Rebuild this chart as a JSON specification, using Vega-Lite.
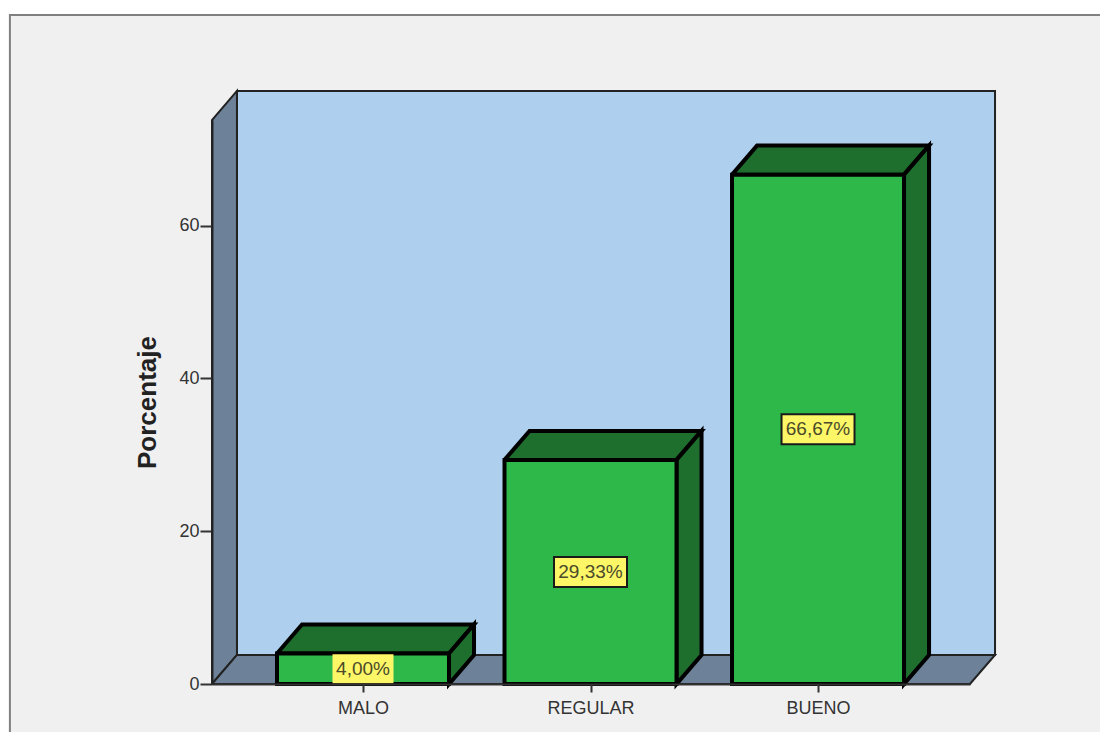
{
  "$schema": "https://vega.github.io/schema/vega-lite/v6.json",
  "width": 758,
  "height": 564,
  "autosize": {"type": "none"},
  "padding": {"left": 212, "top": 120, "right": 130, "bottom": 48},
  "background": "#ffffff",
  "config": {"view": {"stroke": null}, "font": "Liberation Sans"},
  "datasets": {
    "barras": [
      {"categoria": "MALO", "posicion": 1, "porcentaje": 4.0, "centro": 2.0, "etiqueta": "4,00%"},
      {"categoria": "REGULAR", "posicion": 2, "porcentaje": 29.33, "centro": 14.665, "etiqueta": "29,33%"},
      {"categoria": "BUENO", "posicion": 3, "porcentaje": 66.67, "centro": 33.335, "etiqueta": "66,67%"}
    ],
    "marco": [
      {"desde": -0.552, "hasta": 4.6, "base": -12, "techo": 87.55}
    ],
    "escenario": [
      {"cara": "pared", "orden": 1, "u": 0.446, "v": 3.8},
      {"cara": "pared", "orden": 2, "u": 0.446, "v": 77.62},
      {"cara": "pared", "orden": 3, "u": 3.778, "v": 77.62},
      {"cara": "pared", "orden": 4, "u": 3.778, "v": 3.8},
      {"cara": "pared", "orden": 5, "u": 0.446, "v": 3.8},
      {"cara": "lateral", "orden": 1, "u": 0.3363, "v": 0},
      {"cara": "lateral", "orden": 2, "u": 0.446, "v": 3.8},
      {"cara": "lateral", "orden": 3, "u": 0.446, "v": 77.62},
      {"cara": "lateral", "orden": 4, "u": 0.3363, "v": 73.82},
      {"cara": "lateral", "orden": 5, "u": 0.3363, "v": 0},
      {"cara": "suelo", "orden": 1, "u": 0.3363, "v": 0},
      {"cara": "suelo", "orden": 2, "u": 0.446, "v": 3.8},
      {"cara": "suelo", "orden": 3, "u": 3.778, "v": 3.8},
      {"cara": "suelo", "orden": 4, "u": 3.668, "v": 0},
      {"cara": "suelo", "orden": 5, "u": 0.3363, "v": 0}
    ],
    "volumen": [
      {"cara": "MALO arriba", "orden": 1, "u": 0.622, "v": 4.0},
      {"cara": "MALO arriba", "orden": 2, "u": 0.732, "v": 7.8},
      {"cara": "MALO arriba", "orden": 3, "u": 1.488, "v": 7.8},
      {"cara": "MALO arriba", "orden": 4, "u": 1.378, "v": 4.0},
      {"cara": "MALO arriba", "orden": 5, "u": 0.622, "v": 4.0},
      {"cara": "MALO lado", "orden": 1, "u": 1.378, "v": 4.0},
      {"cara": "MALO lado", "orden": 2, "u": 1.488, "v": 7.8},
      {"cara": "MALO lado", "orden": 3, "u": 1.488, "v": 3.8},
      {"cara": "MALO lado", "orden": 4, "u": 1.378, "v": 0},
      {"cara": "MALO lado", "orden": 5, "u": 1.378, "v": 4.0},
      {"cara": "REGULAR arriba", "orden": 1, "u": 1.622, "v": 29.33},
      {"cara": "REGULAR arriba", "orden": 2, "u": 1.732, "v": 33.13},
      {"cara": "REGULAR arriba", "orden": 3, "u": 2.488, "v": 33.13},
      {"cara": "REGULAR arriba", "orden": 4, "u": 2.378, "v": 29.33},
      {"cara": "REGULAR arriba", "orden": 5, "u": 1.622, "v": 29.33},
      {"cara": "REGULAR lado", "orden": 1, "u": 2.378, "v": 29.33},
      {"cara": "REGULAR lado", "orden": 2, "u": 2.488, "v": 33.13},
      {"cara": "REGULAR lado", "orden": 3, "u": 2.488, "v": 3.8},
      {"cara": "REGULAR lado", "orden": 4, "u": 2.378, "v": 0},
      {"cara": "REGULAR lado", "orden": 5, "u": 2.378, "v": 29.33},
      {"cara": "BUENO arriba", "orden": 1, "u": 2.622, "v": 66.67},
      {"cara": "BUENO arriba", "orden": 2, "u": 2.732, "v": 70.47},
      {"cara": "BUENO arriba", "orden": 3, "u": 3.488, "v": 70.47},
      {"cara": "BUENO arriba", "orden": 4, "u": 3.378, "v": 66.67},
      {"cara": "BUENO arriba", "orden": 5, "u": 2.622, "v": 66.67},
      {"cara": "BUENO lado", "orden": 1, "u": 3.378, "v": 66.67},
      {"cara": "BUENO lado", "orden": 2, "u": 3.488, "v": 70.47},
      {"cara": "BUENO lado", "orden": 3, "u": 3.488, "v": 3.8},
      {"cara": "BUENO lado", "orden": 4, "u": 3.378, "v": 0},
      {"cara": "BUENO lado", "orden": 5, "u": 3.378, "v": 66.67}
    ]
  },
  "encoding": {
    "x": {
      "type": "quantitative",
      "scale": {"domain": [0.3363, 3.668], "nice": false, "zero": false, "padding": 0},
      "axis": {
        "title": null,
        "values": [1, 2, 3],
        "labelExpr": "datum.value === 1 ? 'MALO' : datum.value === 2 ? 'REGULAR' : 'BUENO'",
        "grid": false,
        "zindex": 1,
        "domainColor": "#333333",
        "domainWidth": 2,
        "tickColor": "#333333",
        "tickWidth": 2,
        "tickSize": 8,
        "labelFont": "Liberation Sans",
        "labelFontSize": 18,
        "labelColor": "#333333",
        "labelPadding": 7
      }
    },
    "y": {
      "type": "quantitative",
      "scale": {"domain": [0, 73.82], "nice": false},
      "axis": {
        "title": "Porcentaje",
        "values": [0, 20, 40, 60],
        "grid": false,
        "zindex": 1,
        "domainColor": "#222222",
        "domainWidth": 2,
        "tickColor": "#333333",
        "tickWidth": 2,
        "tickSize": 12,
        "labelFont": "Liberation Sans",
        "labelFontSize": 18,
        "labelColor": "#333333",
        "labelPadding": 1,
        "titleFont": "Liberation Sans",
        "titleFontSize": 26,
        "titleFontWeight": "bold",
        "titleColor": "#222222",
        "titlePadding": 18
      }
    }
  },
  "layer": [
    {
      "data": {"name": "marco"},
      "mark": {"type": "rect", "fill": "#f0f0f0", "stroke": "#808080", "strokeWidth": 2, "clip": false},
      "encoding": {
        "x": {"field": "desde", "type": "quantitative"},
        "x2": {"field": "hasta"},
        "y": {"field": "base", "type": "quantitative"},
        "y2": {"field": "techo"}
      }
    },
    {
      "data": {"name": "escenario"},
      "mark": {"type": "line", "stroke": "#222222", "strokeWidth": 2, "strokeJoin": "miter", "clip": false},
      "encoding": {
        "x": {"field": "u", "type": "quantitative"},
        "y": {"field": "v", "type": "quantitative"},
        "order": {"field": "orden", "type": "quantitative"},
        "detail": {"field": "cara"},
        "fill": {
          "field": "cara",
          "type": "nominal",
          "scale": {"domain": ["pared", "lateral", "suelo"], "range": ["#aed0ee", "#6d8198", "#6d8198"]},
          "legend": null
        }
      }
    },
    {
      "data": {"name": "volumen"},
      "mark": {"type": "line", "fill": "#1e6e2e", "stroke": "#000000", "strokeWidth": 4, "strokeJoin": "miter", "clip": false},
      "encoding": {
        "x": {"field": "u", "type": "quantitative"},
        "y": {"field": "v", "type": "quantitative"},
        "order": {"field": "orden", "type": "quantitative"},
        "detail": {"field": "cara"}
      }
    },
    {
      "data": {"name": "barras"},
      "mark": {"type": "bar", "orient": "vertical", "width": 172, "fill": "#2fb84a", "stroke": "#000000", "strokeWidth": 4, "strokeJoin": "miter", "clip": false},
      "encoding": {
        "x": {"field": "posicion", "type": "quantitative"},
        "y": {"field": "porcentaje", "type": "quantitative"}
      }
    },
    {
      "data": {"name": "barras"},
      "transform": [{"filter": "datum.categoria !== 'MALO'"}],
      "mark": {"type": "rect", "width": 73, "height": 30, "fill": "#fdf667", "stroke": "#1a1a1a", "strokeWidth": 2},
      "encoding": {
        "x": {"field": "posicion", "type": "quantitative"},
        "y": {"field": "centro", "type": "quantitative"}
      }
    },
    {
      "data": {"name": "barras"},
      "transform": [{"filter": "datum.categoria === 'MALO'"}],
      "mark": {"type": "rect", "width": 61, "height": 29, "fill": "#fdf667"},
      "encoding": {
        "x": {"field": "posicion", "type": "quantitative"},
        "y": {"field": "centro", "type": "quantitative"}
      }
    },
    {
      "data": {"name": "barras"},
      "mark": {"type": "text", "font": "Liberation Sans", "fontSize": 19, "fill": "#4a4a2a", "align": "center", "baseline": "middle"},
      "encoding": {
        "x": {"field": "posicion", "type": "quantitative"},
        "y": {"field": "centro", "type": "quantitative"},
        "text": {"field": "etiqueta"}
      }
    }
  ]
}
